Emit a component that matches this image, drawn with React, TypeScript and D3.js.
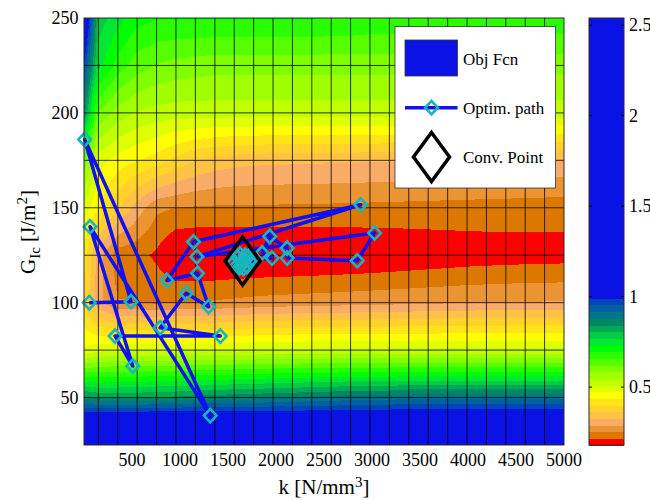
import React, { useMemo } from 'react';
import * as d3 from 'd3';

const W = 650;
const H = 501;

// Mesh nodes of the objective-function surface
const kNodes = [0, 150, 352, 554, 756, 958, 1160, 1363, 1565, 1767, 1969, 2171, 2373, 2575, 2777, 2979, 3181, 3383, 3585, 3788, 3990, 4192, 4394, 4596, 4798, 5000];
const gNodes = [25, 50, 75, 100, 125, 150, 175, 200, 225, 250];

// Objective function values, one row per G node (bottom to top), one entry per k node
const objG25 = [1.30, 1.34, 1.34, 1.34, 1.34, 1.34, 1.33, 1.32, 1.30, 1.29, 1.28, 1.27, 1.27, 1.26, 1.26, 1.26, 1.26, 1.26, 1.26, 1.26, 1.26, 1.26, 1.26, 1.26, 1.26, 1.26];
const objG50 = [0.86, 0.84, 0.84, 0.84, 0.85, 0.85, 0.86, 0.86, 0.87, 0.87, 0.88, 0.88, 0.89, 0.89, 0.90, 0.90, 0.90, 0.91, 0.91, 0.91, 0.91, 0.91, 0.91, 0.91, 0.91, 0.91];
const objG75 = [0.48, 0.50, 0.51, 0.51, 0.51, 0.51, 0.51, 0.51, 0.515, 0.515, 0.52, 0.52, 0.52, 0.52, 0.52, 0.52, 0.52, 0.52, 0.52, 0.52, 0.52, 0.52, 0.52, 0.52, 0.52, 0.52];
const objG100 = [0.40, 0.30, 0.256, 0.254, 0.248, 0.254, 0.256, 0.258, 0.262, 0.266, 0.269, 0.271, 0.273, 0.275, 0.277, 0.279, 0.281, 0.283, 0.285, 0.287, 0.289, 0.290, 0.291, 0.292, 0.293, 0.293];
const objG125 = [0.42, 0.31, 0.232, 0.228, 0.210, 0.172, 0.170, 0.170, 0.171, 0.172, 0.172, 0.173, 0.174, 0.175, 0.177, 0.179, 0.182, 0.185, 0.188, 0.191, 0.194, 0.196, 0.198, 0.199, 0.200, 0.201];
const objG150 = [0.50, 0.44, 0.37, 0.31, 0.262, 0.254, 0.250, 0.249, 0.248, 0.248, 0.248, 0.247, 0.247, 0.246, 0.245, 0.244, 0.243, 0.242, 0.241, 0.240, 0.239, 0.238, 0.237, 0.236, 0.235, 0.234];
const objG175 = [0.62, 0.49, 0.46, 0.44, 0.42, 0.39, 0.365, 0.35, 0.342, 0.338, 0.336, 0.335, 0.334, 0.333, 0.332, 0.331, 0.330, 0.329, 0.328, 0.327, 0.326, 0.325, 0.324, 0.323, 0.322, 0.321];
const objG200 = [0.86, 0.62, 0.57, 0.545, 0.535, 0.53, 0.53, 0.53, 0.53, 0.53, 0.53, 0.53, 0.53, 0.53, 0.53, 0.53, 0.53, 0.53, 0.53, 0.53, 0.53, 0.53, 0.53, 0.53, 0.53, 0.53];
const objG225 = [0.98, 0.75, 0.68, 0.64, 0.62, 0.61, 0.605, 0.60, 0.60, 0.60, 0.60, 0.60, 0.60, 0.60, 0.60, 0.60, 0.60, 0.60, 0.60, 0.60, 0.60, 0.60, 0.60, 0.60, 0.60, 0.60];
const objG250 = [1.12, 0.79, 0.75, 0.71, 0.70, 0.70, 0.70, 0.70, 0.70, 0.70, 0.70, 0.70, 0.70, 0.695, 0.695, 0.69, 0.69, 0.69, 0.69, 0.69, 0.69, 0.69, 0.69, 0.69, 0.69, 0.69];
const objRows = [objG25, objG50, objG75, objG100, objG125, objG150, objG175, objG200, objG225, objG250];

// Colour map: 64 levels, the lowest ones coloured, the rest saturated blue
const cmapLow = [
  '#ff0000', '#dc7800', '#ea9434', '#f8ac68', '#ffc244', '#ffd22c', '#ffe418', '#ffff00',
  '#e0ff00', '#c0ff00', '#a0ff00', '#80ff00', '#55ff00', '#2aff00', '#00ff00', '#00e830',
  '#00cc44', '#00aa55', '#008866', '#007788', '#0060a0', '#0046b8',
];
const cmapHigh = '#0a12e6';
const CLIM = [0.18, 2.54];
const NLEV = 64;

const xTicks = [500, 1000, 1500, 2000, 2500, 3000, 3500, 4000, 4500, 5000];
const yTicks = [50, 100, 150, 200, 250];
const cbTicks = [0.5, 1, 1.5, 2, 2.5];

// Optimisation path (k [N/mm^3], G_Ic [J/m^2]), in visiting order
const pathK = [55, 490, 7, 1315, 63, 508, 324, 1420, 793, 1065, 1298, 1183, 863, 1141, 2881, 1176, 3027, 2846, 2116, 2116, 1934, 1855, 1959,
  1560, 1600, 1620, 1650, 1680, 1700, 1730, 1750, 1640, 1670, 1590, 1715, 1660, 1625];
const pathG = [100, 100.5, 186, 40.5, 140, 66.6, 82.4, 82.4, 86.8, 105, 97.9, 115.5, 111.7, 132.1, 151.6, 124.2, 136.7, 122.1, 123.5, 128.7, 134.9, 126.2, 123.5,
  121, 124, 118.5, 122, 125, 119, 122, 121, 120, 123, 119.5, 124.5, 118, 125.5];
const convK = 1652;
const convG = 122;

const FONT = 'Liberation Serif, DejaVu Serif, Times New Roman, serif';
const LINE_BLUE = '#1010f0';
const MARK_CYAN = '#17b6be';

const x = d3.scaleLinear().domain([0, 5000]).range([84, 564]);
const y = d3.scaleLinear().domain([25, 250]).range([445, 18]);
const yc = d3.scaleLinear().domain(CLIM).range([445, 18]);

const fullMap = d3.range(NLEV).map((i) => (i < cmapLow.length ? cmapLow[i] : cmapHigh));

function objAt(k: number, g: number): number {
  const i = Math.max(0, Math.min(kNodes.length - 2, d3.bisectRight(kNodes, k) - 1));
  const j = Math.max(0, Math.min(gNodes.length - 2, d3.bisectRight(gNodes, g) - 1));
  const tx = (k - kNodes[i]) / (kNodes[i + 1] - kNodes[i]);
  const ty = (g - gNodes[j]) / (gNodes[j + 1] - gNodes[j]);
  const a = objRows[j][i];
  const b = objRows[j][i + 1];
  const c = objRows[j + 1][i];
  const d = objRows[j + 1][i + 1];
  return a * (1 - tx) * (1 - ty) + b * tx * (1 - ty) + c * (1 - tx) * ty + d * tx * ty;
}

function diamond(cx: number, cy: number, rx: number, ry: number) {
  return `M${cx},${cy - ry}L${cx + rx},${cy}L${cx},${cy + ry}L${cx - rx},${cy}Z`;
}

export default function App() {
  const [x0, x1] = x.range();
  const [y1, y0] = y.range();
  const pw = x1 - x0;
  const ph = y1 - y0;

  const surface = useMemo(() => {
    if (typeof document === 'undefined') return '';
    const cv = document.createElement('canvas');
    cv.width = pw;
    cv.height = ph;
    const ctx = cv.getContext('2d');
    if (!ctx) return '';
    const img = ctx.createImageData(pw, ph);
    const rgbMap = fullMap.map((c) => d3.rgb(c));
    const idxOf = d3.scaleQuantize<number>().domain(CLIM).range(d3.range(NLEV));
    for (let py = 0; py < ph; py++) {
      const g = y.invert(y0 + py + 0.5);
      for (let px = 0; px < pw; px++) {
        const k = x.invert(x0 + px + 0.5);
        const c = rgbMap[idxOf(objAt(k, g))];
        const o = (py * pw + px) * 4;
        img.data[o] = c.r;
        img.data[o + 1] = c.g;
        img.data[o + 2] = c.b;
        img.data[o + 3] = 255;
      }
    }
    ctx.putImageData(img, 0, 0);
    return cv.toDataURL();
  }, []);

  const pathLine = d3.line<number>()
    .x((_, i) => x(pathK[i]))
    .y((_, i) => y(pathG[i]))(pathK) || '';

  const cbX = 589;
  const cbW = 35;
  const step = (CLIM[1] - CLIM[0]) / NLEV;

  const legX = 395;
  const legY = 26.5;
  const txt = { fontFamily: FONT };

  return (
    <svg width={W} height={H} style={{ position: 'absolute', left: 0, top: 0, background: '#fff' }}>
      <rect x={0} y={0} width={W} height={H} fill="#fff" />
      {/* surface */}
      <image href={surface} x={x0} y={y0} width={pw} height={ph} preserveAspectRatio="none" />
      {/* mesh lines */}
      <g stroke="#000" strokeOpacity={0.78} strokeWidth={1}>
        {kNodes.filter((k) => k > 0 && k < 5000).map((k) => (
          <line key={'k' + k} x1={x(k)} x2={x(k)} y1={y0} y2={y1} />
        ))}
        {gNodes.filter((g) => g > 25 && g < 250).map((g) => (
          <line key={'g' + g} x1={x0} x2={x1} y1={y(g)} y2={y(g)} />
        ))}
      </g>
      {/* optimisation path */}
      <path d={pathLine} fill="none" stroke={LINE_BLUE} strokeWidth={3.5} strokeLinejoin="round" />
      {pathK.map((k, i) => (
        <path key={'m' + i} d={diamond(x(k), y(pathG[i]), 6.3, 6.7)} fill="none" stroke={MARK_CYAN} strokeWidth={2.6} />
      ))}
      <path d={diamond(x(convK), y(convG), 17.5, 24)} fill="none" stroke="#000" strokeWidth={3.5} />
      {/* axes box */}
      <rect x={x0} y={y0} width={pw} height={ph} fill="none" stroke="#2a2a2a" strokeWidth={1} />
      {/* tick labels */}
      <g fontSize={18} fill="#000" style={txt}>
        {xTicks.map((t) => (
          <text key={'xt' + t} x={x(t)} y={466} textAnchor="middle">{t}</text>
        ))}
        {yTicks.map((t) => (
          <text key={'yt' + t} x={78.5} y={y(t) + 6} textAnchor="end">{t}</text>
        ))}
      </g>
      {/* axis labels */}
      <text x={324} y={494} textAnchor="middle" fontSize={21} style={txt}>
        k [N/mm<tspan dy={-7} fontSize={15}>3</tspan><tspan dy={7}>]</tspan>
      </text>
      <text transform="translate(35,232) rotate(-90)" textAnchor="middle" fontSize={21} style={txt}>
        G<tspan dy={5} fontSize={15}>Ic</tspan><tspan dy={-5}> [J/m</tspan><tspan dy={-8} fontSize={15}>2</tspan><tspan dy={8}>]</tspan>
      </text>
      {/* legend */}
      <rect x={legX} y={legY} width={160.5} height={161.5} fill="#fff" stroke="#333" strokeWidth={0.8} />
      <rect x={405} y={40} width={52.5} height={36} fill={cmapHigh} stroke="#333" strokeWidth={0.8} />
      <text x={463} y={65} fontSize={17} style={txt}>Obj Fcn</text>
      <line x1={405} x2={457.5} y1={107.7} y2={107.7} stroke={LINE_BLUE} strokeWidth={3.5} />
      <path d={diamond(431.5, 107.7, 6.3, 6.7)} fill="none" stroke={MARK_CYAN} strokeWidth={2.6} />
      <text x={463} y={114} fontSize={17} style={txt}>Optim. path</text>
      <path d={diamond(431.5, 157, 18, 24.5)} fill="none" stroke="#000" strokeWidth={3.5} />
      <text x={463} y={163} fontSize={17} style={txt}>Conv. Point</text>
      {/* colorbar */}
      <g shapeRendering="crispEdges">
        {fullMap.map((c, i) => {
          const top = yc(CLIM[0] + (i + 1) * step);
          const bot = yc(CLIM[0] + i * step);
          return <rect key={'cb' + i} x={cbX} y={top} width={cbW} height={bot - top + 0.6} fill={c} />;
        })}
      </g>
      <rect x={cbX} y={18} width={cbW} height={427} fill="none" stroke="#2a2a2a" strokeWidth={1} />
      <g stroke="#000" strokeWidth={1}>
        {cbTicks.map((t) => (
          <g key={'cbt' + t}>
            <line x1={cbX} x2={cbX + 3} y1={yc(t)} y2={yc(t)} />
            <line x1={cbX + cbW - 3} x2={cbX + cbW} y1={yc(t)} y2={yc(t)} />
          </g>
        ))}
      </g>
      <g fontSize={18} fill="#000" style={txt}>
        {cbTicks.map((t) => (
          <text key={'cbl' + t} x={629} y={yc(t) + 6}>{t}</text>
        ))}
      </g>
    </svg>
  );
}
